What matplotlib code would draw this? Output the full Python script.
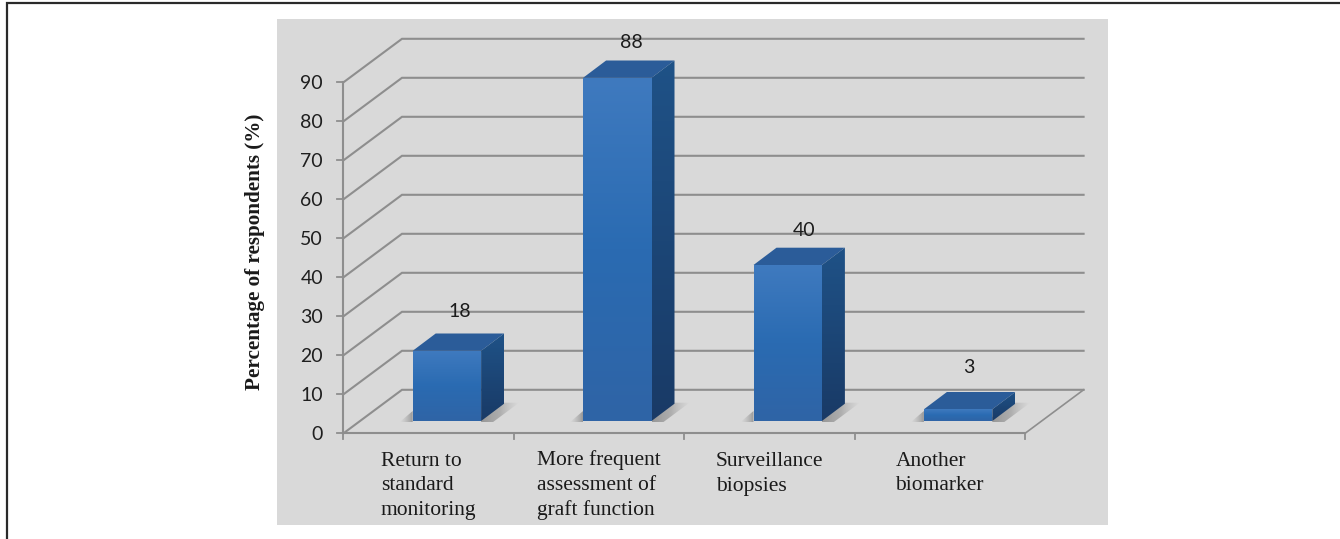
import numpy as np
import matplotlib
matplotlib.use("Agg")
import matplotlib.pyplot as plt
from matplotlib.colors import LinearSegmentedColormap
from matplotlib.patches import Polygon

# Valeurs du graphique
categories = ["Return to\nstandard\nmonitoring", "More frequent\nassessment of\ngraft function",
              "Surveillance\nbiopsies", "Another\nbiomarker"]
values = [18, 88, 40, 3]
yticks = [0, 10, 20, 30, 40, 50, 60, 70, 80, 90]

# decalages des etiquettes, en pixels
cat_pad = [37.5, 23.3, 31.5, 40.8]
val_dx = [12.6, 14.5, 16.5, 10.3]
val_dy = [39, 35, 35, 41.5]

W, H = 1340, 539
X0, Y0 = 343.5, 433.3      # origine de l'axe avant, en pixels
PX_CAT, PX_VAL = 170.4, 3.9  # pixels par categorie / par point de pourcentage

# perspective du plancher, exprimee dans les unites des axes
floor_dx, floor_dy = 58.5 / PX_CAT, 43.5 / PX_VAL
bar_w = 68.4 / PX_CAT
bar_off = 103.4 / PX_CAT
bar_base = 12.3 / PX_VAL
depth_dx, depth_dy = 23 / PX_CAT, 17.3 / PX_VAL

GRID = "#8e8e8e"
face_cmap = LinearSegmentedColormap.from_list("face", ["#2f64a6", "#2a6bb2", "#3f7abf"])
side_cmap = LinearSegmentedColormap.from_list("side", ["#193a66", "#1f5287"])
shadow_r = LinearSegmentedColormap.from_list("shr", ["#55555580", "#66666660", "#8a8a8a00"])
shadow_l = LinearSegmentedColormap.from_list("shl", ["#8a8a8a00", "#55555580"])

fig = plt.figure(figsize=(W / 100, H / 100), dpi=100, facecolor="white")
ax = fig.add_axes([0, 0, 1, 1])
ax.axis("off")


def px_x(p):
    return p / PX_CAT


def px_y(p):
    return p / PX_VAL


def abs_x(p):
    return (p - X0) / PX_CAT


def abs_y(p):
    return (Y0 - p) / PX_VAL


# trait sombre en haut et a gauche, fond gris
ax.plot([abs_x(7.5), abs_x(7.5), abs_x(W)], [abs_y(H), abs_y(2.5), abs_y(2.5)],
        color="#2a2a2a", lw=1.6, zorder=0, solid_joinstyle="miter")
ax.add_patch(plt.Rectangle((abs_x(277), abs_y(525)), px_x(1108 - 277), px_y(525 - 19),
                           fc="#d9d9d9", ec="none", zorder=1))

# grille : parois gauche et arriere
n_cat = len(categories)
for v in yticks:
    ax.plot([0, floor_dx, n_cat + floor_dx], [v, v + floor_dy, v + floor_dy],
            color=GRID, lw=1.5, zorder=2, solid_joinstyle="miter")
ax.plot([n_cat, n_cat + floor_dx], [0, floor_dy], color=GRID, lw=1.2, zorder=2)

# axes avant et graduations
ax.plot([0, 0], [0, yticks[-1]], color=GRID, lw=1.5, zorder=3)
ax.plot([0, n_cat], [0, 0], color=GRID, lw=1.5, zorder=3)
for v in yticks:
    ax.plot([px_x(-6.5), 0], [v, v], color=GRID, lw=1.3, zorder=3)
    ax.text(px_x(-20.5), v - px_y(1.5), str(v), ha="right", va="center", fontsize=14, family="Lato",
            color="#1f1f1f", zorder=5)
for i in range(n_cat + 1):
    ax.plot([i, i], [0, px_y(-5.5)], color=GRID, lw=1.3, zorder=3)


def gradient(x0, x1, y0, y1, cmap, clip, zorder, horizontal=False):
    g = np.linspace(0, 1, 128).reshape(-1, 1)
    if horizontal:
        g = g.T
    im = ax.imshow(g, extent=[x0, x1, y0, y1], origin="lower", cmap=cmap, aspect="auto",
                   interpolation="bilinear", vmin=0, vmax=1, zorder=zorder)
    im.set_clip_path(clip)


for i, (val, label) in enumerate(zip(values, categories)):
    xc = i + bar_off
    x0, x1 = xc - bar_w / 2, xc + bar_w / 2
    y0, y1 = bar_base, bar_base + val

    # ombres portees sur le plancher
    sh_r = Polygon([(x1, y0 - px_y(1)), (x1, y0 + px_y(4)), (x1 + depth_dx, y0 + depth_dy + px_y(1)),
                    (x1 + depth_dx + px_x(15), y0 + depth_dy + px_y(1)), (x1 + px_x(12), y0 - px_y(1))],
                   fc="none", ec="none", zorder=3)
    sh_l = Polygon([(x0 - px_x(13), y0 - px_y(1)), (x0, y0 + px_y(10)), (x0, y0 - px_y(1))],
                   fc="none", ec="none", zorder=3)
    ax.add_patch(sh_r)
    ax.add_patch(sh_l)
    gradient(x1, x1 + depth_dx + px_x(15), y0 - px_y(2), y0 + depth_dy + px_y(2), shadow_r, sh_r, 3, True)
    gradient(x0 - px_x(13), x0, y0 - px_y(2), y0 + px_y(11), shadow_l, sh_l, 3, True)

    # faces de la barre
    front = Polygon([(x0, y0), (x1, y0), (x1, y1), (x0, y1)], fc="none", ec="none", zorder=4)
    side = Polygon([(x1, y0), (x1 + depth_dx, y0 + depth_dy), (x1 + depth_dx, y1 + depth_dy), (x1, y1)],
                   fc="none", ec="none", zorder=4)
    top = Polygon([(x0, y1), (x1, y1), (x1 + depth_dx, y1 + depth_dy), (x0 + depth_dx, y1 + depth_dy)],
                  fc="#2b5c99", ec="none", zorder=4)
    ax.add_patch(front)
    ax.add_patch(side)
    ax.add_patch(top)
    gradient(x0, x1, y0, y1, face_cmap, front, 4)
    gradient(x1, x1 + depth_dx, y0, y1 + depth_dy, side_cmap, side, 4)

    # etiquette de valeur
    ax.text(xc + px_x(val_dx[i]), y1 + px_y(val_dy[i]), str(val), ha="center", va="center",
            fontsize=14, family="Lato", color="#1c1c1c", zorder=6)

    # etiquette de categorie, une ligne a la fois
    for k, line in enumerate(label.split("\n")):
        ax.text(i + px_x(cat_pad[i]), abs_y(465.5 + 25 * k), line, ha="left", va="baseline",
                fontsize=15.5, family="Liberation Serif", color="#1a1a1a", zorder=6)

ax.set_xlim(abs_x(0), abs_x(W))
ax.set_ylim(abs_y(H), abs_y(0))

ax.text(abs_x(255), abs_y(252), "Percentage of respondents (%)", rotation=90, ha="center",
        va="center", fontsize=15.2, family="Liberation Serif", weight="bold", color="#1a1a1a", zorder=6)

fig.savefig("out.png", dpi=100)
